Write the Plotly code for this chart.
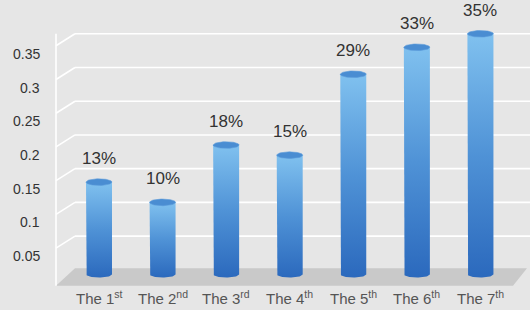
import numpy as np
import plotly.graph_objects as go

# ---- data ----
categories = ["The 1<sup>st</sup>", "The 2<sup>nd</sup>", "The 3<sup>rd</sup>", "The 4<sup>th</sup>",
              "The 5<sup>th</sup>", "The 6<sup>th</sup>", "The 7<sup>th</sup>"]
values = [0.13, 0.10, 0.185, 0.17, 0.29, 0.33, 0.35]
value_labels = ["13%", "10%", "18%", "15%", "29%", "33%", "35%"]
y_ticks = [0.05, 0.1, 0.15, 0.2, 0.25, 0.3, 0.35]
y_tick_labels = ["0.05", "0.1", "0.15", "0.2", "0.25", "0.3", "0.35"]

# ---- geometry / scales (pixels) ----
W, H = 530, 310
X0_PX, X_STEP = 99.0, 63.57          # pixel x of category 0, px per category
Y0_PX, Y_UNIT = 269.8, 674.3         # pixel y of value 0 (back plane), px per unit
x_range = [-X0_PX / X_STEP, (W - X0_PX) / X_STEP]
y_top = Y0_PX / Y_UNIT
y_range = [y_top - H / Y_UNIT, y_top]

def dx(px):  # pixel distance -> x data distance
    return px / X_STEP

def dy(px):  # pixel distance -> y data distance
    return px / Y_UNIT

def xpx(px):  # absolute pixel x -> x data
    return x_range[0] + px / X_STEP

BG = "#e6e6e6"
FLOOR = "#c9c9c9"
GRID = "#ffffff"
FONT = "Liberation Sans, Arial"

fig = go.Figure()
shapes = []

# floor (depth plane)
left_back = xpx(75)
right_back = xpx(527)
depth_x, depth_y = dx(19), dy(16)
floor_path = (f"M {left_back - depth_x},{-depth_y} L {left_back},{dy(1.5)} "
              f"L {right_back},{dy(1.5)} L {right_back - dx(14)},{-depth_y} Z")
shapes.append(dict(type="path", path=floor_path, fillcolor=FLOOR, line=dict(width=0), layer="below"))

# gridlines with perspective slant
for v in y_ticks:
    shapes.append(dict(type="line", x0=left_back - depth_x, y0=v - dy(12), x1=left_back, y1=v,
                       line=dict(color=GRID, width=1.6), layer="below"))
    shapes.append(dict(type="line", x0=left_back, y0=v, x1=x_range[1], y1=v,
                       line=dict(color=GRID, width=1.6), layer="below"))
# vertical axis line
shapes.append(dict(type="line", x0=left_back - depth_x, y0=-depth_y, x1=left_back - depth_x, y1=max(y_ticks),
                   line=dict(color=GRID, width=1.6), layer="below"))

# cylinders
half_w = dx(13)
ry = dy(3.3)
base = -dy(4.5)
t = np.linspace(0, np.pi, 40)
for i, v in enumerate(values):
    bx = np.concatenate([[i - half_w], i - half_w * np.cos(t), [i + half_w]])
    by = np.concatenate([[v], base - ry * np.sin(t), [v]])
    bx = np.append(bx, bx[0])
    by = np.append(by, by[0])
    fig.add_trace(go.Scatter(
        x=bx, y=by, mode="lines", fill="toself", line=dict(width=0, color="#3a7ccc"),
        fillgradient=dict(type="vertical", colorscale=[[0, "#2b69bd"], [0.5, "#4f92d6"], [1, "#80c1ef"]]),
        hoverinfo="skip", showlegend=False))
    tt = np.linspace(0, 2 * np.pi, 60)
    fig.add_trace(go.Scatter(
        x=i + half_w * np.cos(tt), y=v + ry * np.sin(tt), mode="lines", fill="toself",
        fillcolor="#4a8dd2", line=dict(width=0.6, color="#5a9ada"),
        hoverinfo="skip", showlegend=False))

annotations = []
for i, (v, lab) in enumerate(zip(values, value_labels)):
    annotations.append(dict(x=i, y=v, xref="x", yref="y", text=lab, showarrow=False,
                            yanchor="bottom", yshift=12,
                            font=dict(family=FONT, size=17, color="#333333")))
for i, c in enumerate(categories):
    annotations.append(dict(x=i, y=0, xref="x", yref="y", text=c, showarrow=False,
                            yanchor="middle", yshift=-28,
                            font=dict(family=FONT, size=15, color="#555555")))
for v, lab in zip(y_ticks, y_tick_labels):
    annotations.append(dict(x=xpx(42), y=v, xref="x", yref="y", text=lab, showarrow=False,
                            xanchor="right", yanchor="middle", yshift=-20,
                            font=dict(family=FONT, size=14, color="#333333")))

fig.update_layout(
    width=W, height=H, margin=dict(l=0, r=0, t=0, b=0),
    paper_bgcolor=BG, plot_bgcolor=BG,
    xaxis=dict(range=x_range, visible=False, fixedrange=True),
    yaxis=dict(range=y_range, visible=False, fixedrange=True),
    shapes=shapes, annotations=annotations, showlegend=False,
)

fig.write_html("out.html", config={"displayModeBar": False},
               post_script="document.body.style.margin='0';document.body.style.background='#e6e6e6';")
